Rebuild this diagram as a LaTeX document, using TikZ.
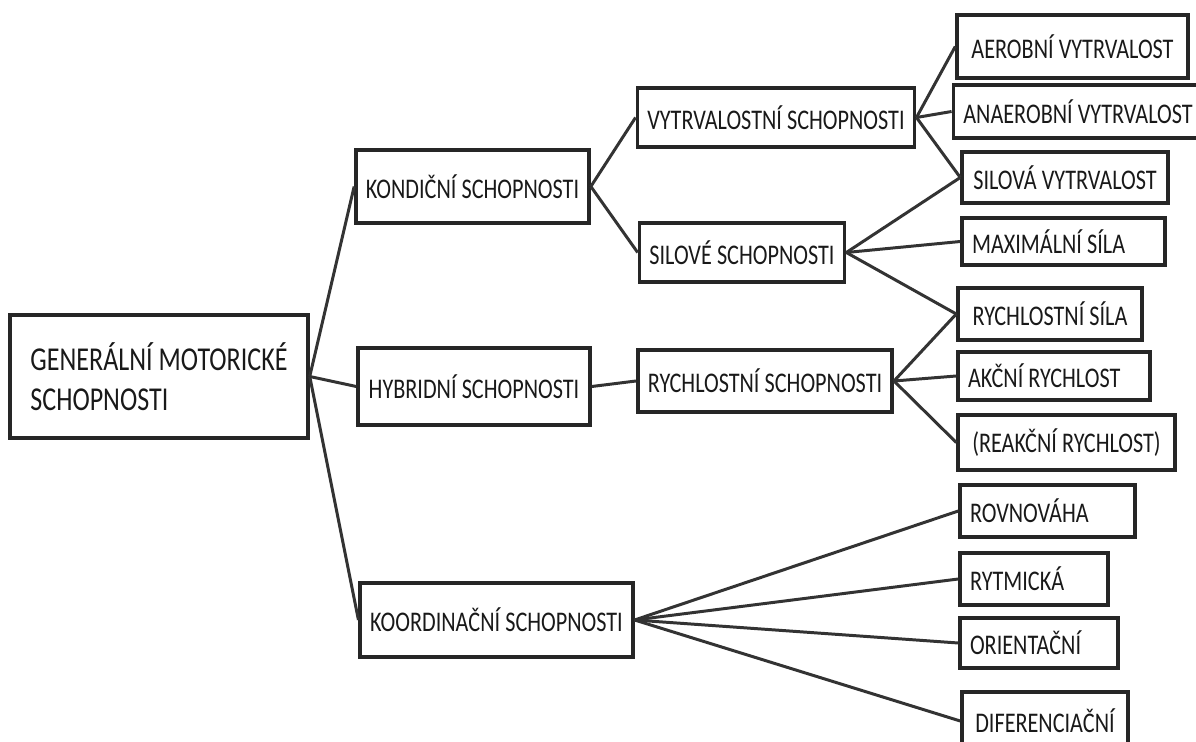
\documentclass[tikz,border=0pt]{standalone}
\usepackage{fontspec}
\setmainfont[FakeStretch=0.78]{Carlito}
\tikzset{
  skill/.style = {draw=black!85, line width=2pt, inner xsep=0.2cm, inner ysep=0pt, align=left,
                  font=\fontsize{16.2}{19}\selectfont, text=black!90,
                  execute at begin node={\spaceskip=0.18em plus 0.05em}},
  link/.style  = {draw=black!80, line width=1.7pt}
}
\begin{document}
\begin{tikzpicture}[x = 0.02cm, y = -0.02cm]
    \useasboundingbox (0,0) rectangle (1196,742);

    \node[skill, minimum width=5.96cm, minimum height=2.46cm, font=\fontsize{19}{22.7}\selectfont] (gen) at (159,376.5)
        {GENERÁLNÍ MOTORICKÉ\\SCHOPNOSTI};

    \node[skill, minimum width=4.62cm, minimum height=1.46cm] (kond)  at (472.5,186.5) {KONDIČNÍ SCHOPNOSTI};
    \node[skill, minimum width=4.64cm, minimum height=1.54cm] (hyb)   at (474,386.5)   {HYBRIDNÍ SCHOPNOSTI};
    \node[skill, minimum width=5.34cm, minimum height=1.48cm] (koord) at (496.5,620)   {KOORDINAČNÍ SCHOPNOSTI};

    \node[skill, minimum width=5.3cm,  minimum height=1.18cm] (vytr)  at (776,117.5)   {VYTRVALOSTNÍ SCHOPNOSTI};
    \node[skill, minimum width=4.0cm,  minimum height=1.18cm] (sil)   at (742,252.5)   {SILOVÉ SCHOPNOSTI};
    \node[skill, minimum width=4.92cm, minimum height=1.24cm] (rychs) at (765,381)     {RYCHLOSTNÍ SCHOPNOSTI};

    \node[skill, minimum width=4.62cm, minimum height=1.26cm] (aer)   at (1072.5,46.5) {AEROBNÍ VYTRVALOST};
    \node[skill, minimum width=4.84cm, minimum height=1.06cm] (anaer) at (1078,111.5)  {ANAEROBNÍ VYTRVALOST};
    \node[skill, minimum width=4.12cm, minimum height=1.02cm] (silv)  at (1065,177.5)  {SILOVÁ VYTRVALOST};
    \node[skill, text width=3.66cm, minimum height=0.94cm] (max)   at (1063.5,241.5) {MAXIMÁLNÍ SÍLA};
    \node[skill, minimum width=3.68cm, minimum height=1.04cm] (rsila) at (1050,314)    {RYCHLOSTNÍ SÍLA};
    \node[skill, text width=3.44cm, minimum height=0.96cm] (akc)   at (1054,376)    {AKČNÍ RYCHLOST};
    \node[skill, minimum width=4.34cm, minimum height=1.1cm]  (reak)  at (1066.5,442.5) {(REAKČNÍ RYCHLOST)};
    \node[skill, text width=3.1cm,  minimum height=1.04cm] (rovn)  at (1047.5,511)  {ROVNOVÁHA};
    \node[skill, text width=2.56cm, minimum height=1.04cm] (rytm)  at (1034,579)    {RYTMICKÁ};
    \node[skill, text width=2.76cm, minimum height=1.0cm]  (orie)  at (1039,643)    {ORIENTAČNÍ};
    \node[skill, minimum width=3.32cm, minimum height=1.16cm] (dif)   at (1045,721)    {DIFERENCIAČNÍ};

    \draw[link] (gen.east) -- (kond.west);
    \draw[link] (gen.east) -- (hyb.west);
    \draw[link] (gen.east) -- (koord.west);

    \draw[link] (kond.east) -- (vytr.west);
    \draw[link] (kond.east) -- (sil.west);
    \draw[link] (hyb.east)  -- (rychs.west);

    \draw[link] (vytr.east) -- (aer.west);
    \draw[link] (vytr.east) -- (anaer.west);
    \draw[link] (vytr.east) -- (silv.west);

    \draw[link] (sil.east) -- (silv.west);
    \draw[link] (sil.east) -- (max.west);
    \draw[link] (sil.east) -- (rsila.west);

    \draw[link] (rychs.east) -- (rsila.west);
    \draw[link] (rychs.east) -- (akc.west);
    \draw[link] (rychs.east) -- (reak.west);

    \draw[link] (koord.east) -- (rovn.west);
    \draw[link] (koord.east) -- (rytm.west);
    \draw[link] (koord.east) -- (orie.west);
    \draw[link] (koord.east) -- (dif.west);
\end{tikzpicture}
\end{document}
